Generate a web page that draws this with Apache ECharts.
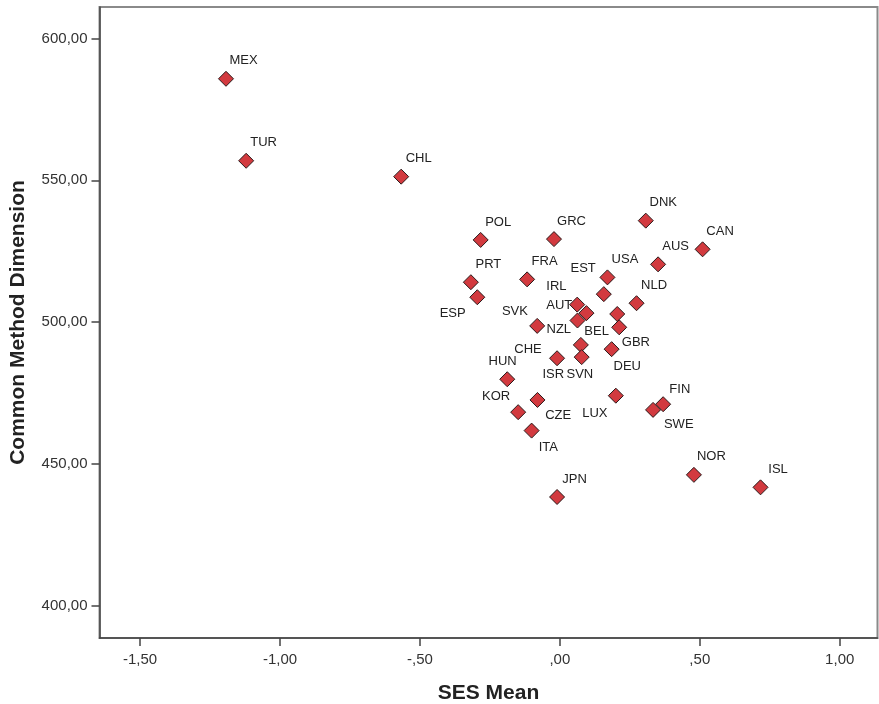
<!DOCTYPE html>
<html>
<head>
<meta charset="utf-8">
<script src="https://cdn.jsdelivr.net/npm/echarts@6/dist/echarts.min.js"></script>
<style>
html,body{margin:0;padding:0;background:#fff;}
#chart{width:879px;height:704px;}
</style>
</head>
<body>
<div id="chart"></div>
<script>
// ---- data ----
var countries = ['MEX','TUR','CHL','POL','GRC','DNK','CAN','AUS','USA','FRA','PRT','ESP','EST','NLD',
  'AUT','IRL','NZL','BEL','SVK','GBR','SVN','DEU','CHE','ISR','HUN','KOR','CZE','ITA','LUX','SWE','FIN','NOR','ISL','JPN'];
var sesMean = [-1.193,-1.121,-0.567,-0.283,-0.021,0.307,0.510,0.351,0.170,-0.117,-0.318,-0.295,0.157,0.274,
  0.062,0.095,0.063,0.205,-0.081,0.212,0.075,0.185,-0.010,0.078,-0.188,-0.149,-0.080,-0.101,0.200,0.333,0.369,0.479,0.717,-0.010];
var commonMethod = [585.8,556.9,551.3,529.0,529.3,535.8,525.7,520.4,515.8,515.1,514.1,508.8,509.9,506.7,
  506.2,503.2,500.6,502.9,498.7,498.2,492.0,490.5,487.3,487.7,479.9,468.3,472.6,461.8,474.1,469.1,471.1,446.2,441.8,438.4];
var xTickValues = [-1.5,-1.0,-0.5,0,0.5,1.0];
var xTickLabels = ['-1,50','-1,00','-,50',',00',',50','1,00'];
var yTickValues = [400,450,500,550,600];
var yTickLabels = ['400,00','450,00','500,00','550,00','600,00'];
var xTitle = 'SES Mean';
var yTitle = 'Common Method Dimension';

// ---- label placement (style) ----
var defaultOffset = [17.5,-18];
var labelOffsets = {
  ESP:[-24.6,16], EST:[-20.7,-25.3], AUT:[-18,0.3], IRL:[-30,-26.6], NZL:[-18.7,9.3],
  BEL:[-20.6,17.7], SVK:[-22.3,-14.3], GBR:[16.7,15.4], SVN:[-1,30], DEU:[15.6,17.4],
  CHE:[-29,-9.3], ISR:[-28.4,17.7], HUN:[-4.6,-18], KOR:[-22,-15.7], CZE:[20.7,15],
  ITA:[16.7,16.7], LUX:[-21,17.3], SWE:[25.7,15], FIN:[16.7,-14.3]
};

var seriesData = countries.map(function(c,i){
  return {
    name: c,
    value: [sesMean[i], commonMethod[i]],
    label: { offset: labelOffsets[c] || defaultOffset }
  };
});

function labelFor(values, labels){
  return function(v){
    for (var i=0;i<values.length;i++){ if (Math.abs(values[i]-v) < 1e-6) return labels[i]; }
    return '';
  };
}

var font = '"Liberation Sans", Arial, sans-serif';
var chart = echarts.init(document.getElementById('chart'), null, {renderer:'canvas'});
chart.setOption({
  animation: false,
  backgroundColor: '#ffffff',
  grid: {
    left: 99.5, right: 1.5, top: 7, bottom: 66,
    containLabel: false, outerBoundsMode: 'none',
    show: true, borderColor: '#8a8a8a', borderWidth: 2, backgroundColor: '#ffffff'
  },
  xAxis: {
    type: 'value', min: -1.645, max: 1.135,
    name: xTitle, nameLocation: 'middle', nameGap: 45,
    nameTextStyle: { fontFamily: font, fontWeight: 'bold', fontSize: 21, color: '#222' },
    axisLine: { show: true, onZero: false, lineStyle: { color: '#444', width: 1.5 } },
    axisTick: { show: true, length: 8, lineStyle: { color: '#444', width: 1.5 }, customValues: xTickValues },
    axisLabel: { fontFamily: font, fontSize: 15, color: '#333', margin: 14,
      customValues: xTickValues, formatter: labelFor(xTickValues, xTickLabels) },
    splitLine: { show: false }
  },
  yAxis: {
    type: 'value', min: 388.7, max: 611.1,
    name: yTitle, nameLocation: 'middle', nameGap: 71, nameRotate: 90,
    nameTextStyle: { fontFamily: font, fontWeight: 'bold', fontSize: 21, color: '#222' },
    axisLine: { show: true, onZero: false, lineStyle: { color: '#444', width: 1.5 } },
    axisTick: { show: true, length: 8, lineStyle: { color: '#444', width: 1.5 }, customValues: yTickValues },
    axisLabel: { fontFamily: font, fontSize: 15, color: '#333', margin: 12,
      customValues: yTickValues, formatter: labelFor(yTickValues, yTickLabels) },
    splitLine: { show: false }
  },
  series: [{
    type: 'scatter',
    symbol: 'diamond',
    symbolSize: 15,
    itemStyle: { color: '#d23a3f', borderColor: '#2a1a1a', borderWidth: 1, opacity: 1 },
    label: {
      show: true, position: 'inside', formatter: '{b}',
      fontFamily: font, fontSize: 13, color: '#222', align: 'center', verticalAlign: 'middle'
    },
    emphasis: { disabled: true },
    data: seriesData
  }]
});
</script>
</body>
</html>
